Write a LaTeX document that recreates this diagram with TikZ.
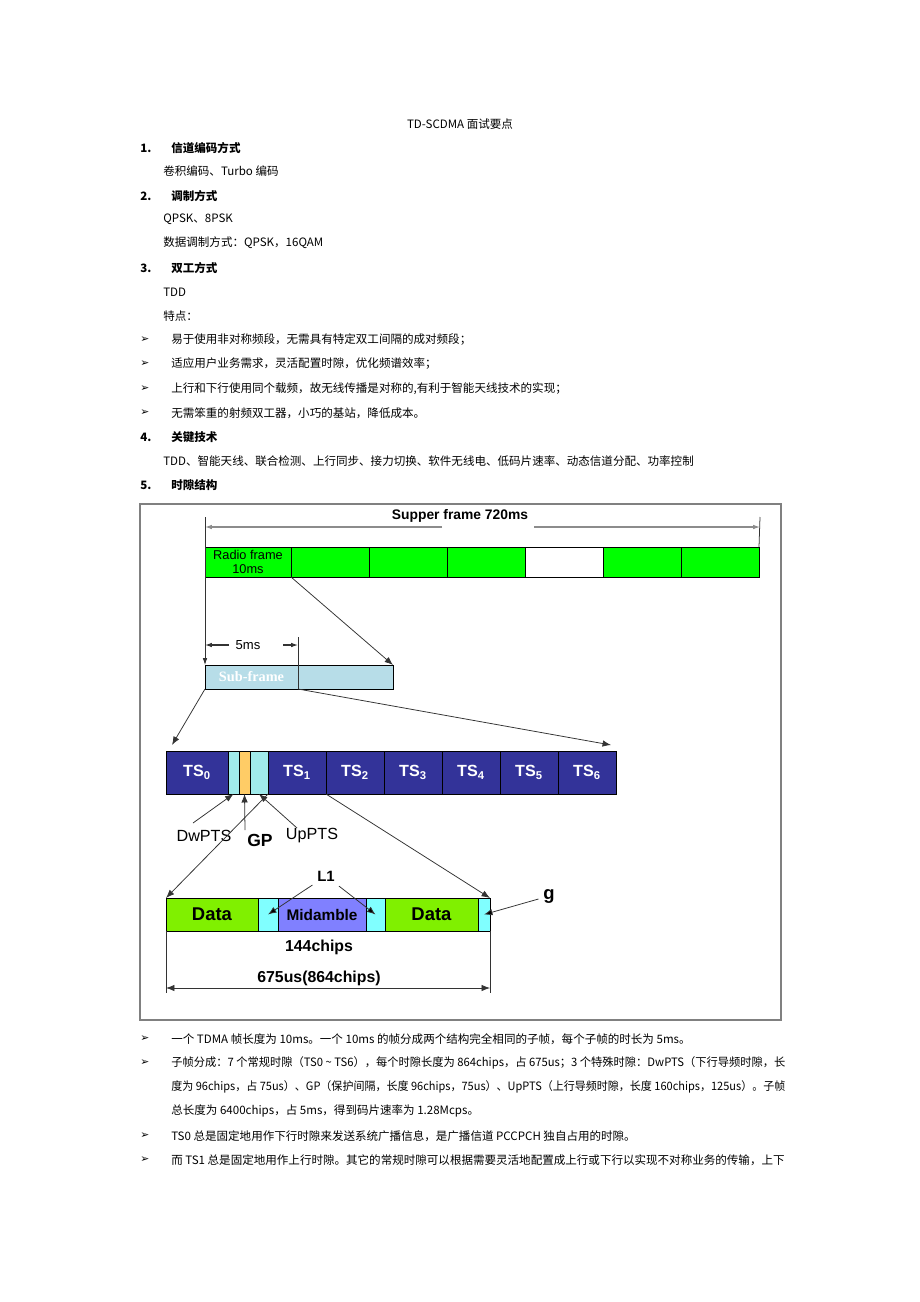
\documentclass[tikz,border=0pt]{standalone}
\usepackage{fontspec}
\setmainfont{Liberation Sans}
\newfontfamily\cjk{Noto Sans CJK SC}
\newfontfamily\dejavu{DejaVu Sans}
\newfontfamily\serifb{Liberation Serif}
\usetikzlibrary{positioning,arrows.meta}

\newlength{\pxu}
\setlength{\pxu}{0.65pt}

\definecolor{rfgreen}{RGB}{0,255,0}
\definecolor{sfblue}{RGB}{183,221,232}
\definecolor{tsblue}{RGB}{51,51,153}
\definecolor{ptscyan}{RGB}{160,235,235}
\definecolor{gporange}{RGB}{255,204,102}
\definecolor{datagreen}{RGB}{128,240,0}
\definecolor{midpurple}{RGB}{128,128,255}
\definecolor{burstcyan}{RGB}{128,255,255}

\tikzset{
  body/.style={anchor=west, inner sep=0pt, font=\cjk\fontsize{7.5}{9}\selectfont},
  head/.style={body, font=\cjk\bfseries\fontsize{7.5}{9}\selectfont},
  pointer/.style={body, font=\dejavu\fontsize{7}{9}\selectfont},
}

\begin{document}
\begin{tikzpicture}[x=0.65pt, y=-0.65pt,
  cell/.style={draw=black, line width=0.6pt, inner sep=0pt, outer sep=0pt, minimum height=#1*\pxu},
  cw/.style={minimum width=#1*\pxu},
  arr/.style={draw=black!80, line width=0.5pt, -{Latex[length=5.5pt,width=4.2pt]}},
  grayarr/.style={draw=black!45, line width=0.7pt, -{Latex[length=4.5pt,width=3pt]}},
  lbl/.style={inner sep=0pt, font=\fontsize{10.5}{12}\selectfont},
  blbl/.style={inner sep=0pt, font=\bfseries\fontsize{10.3}{12}\selectfont},
  tscell/.style={cell=43, cw=58, fill=tsblue, text=white, font=\bfseries\fontsize{10.5}{12}\selectfont}]
\useasboundingbox (0,0) rectangle (920,1302);

% page text above the figure
\node[body, anchor=center] (title) at (460,124) {TD-SCDMA 面试要点};
\node[head] (n1) at (140,148) {1.};
\node[head] (h1) at (171,148) {信道编码方式};
\node[body] (t1) at (163,171) {卷积编码、Turbo 编码};
\node[head] (n2) at (140,196) {2.};
\node[head] (h2) at (171,196) {调制方式};
\node[body] (t2) at (163,219) {QPSK、8PSK};
\node[body] (t3) at (163,243) {数据调制方式：QPSK，16QAM};
\node[head] (n3) at (140,268) {3.};
\node[head] (h3) at (171,268) {双工方式};
\node[body] (t4) at (163,292) {TDD};
\node[body] (t5) at (163,316) {特点：};
\foreach \y in {340,364,389,413,1039,1063,1136,1160}
  \node[pointer] (b\y) at (140,\y) {➢};
\node[body] (p1) at (171,340) {易于使用非对称频段，无需具有特定双工间隔的成对频段；};
\node[body] (p2) at (171,364) {适应用户业务需求，灵活配置时隙，优化频谱效率；};
\node[body] (p3) at (171,389) {上行和下行使用同个载频，故无线传播是对称的,有利于智能天线技术的实现；};
\node[body] (p4) at (171,413) {无需笨重的射频双工器，小巧的基站，降低成本。};
\node[head] (n4) at (140,437) {4.};
\node[head] (h4) at (171,437) {关键技术};
\node[body] (t6) at (163,461) {TDD、智能天线、联合检测、上行同步、接力切换、软件无线电、低码片速率、动态信道分配、功率控制};
\node[head] (n5) at (140,485) {5.};
\node[head] (h5) at (171,485) {时隙结构};

% figure frame
\draw[black!50, line width=0.8pt] (140,504) rectangle (781,1020);

% super frame
\node[inner sep=0pt, font=\bfseries\fontsize{9}{11}\selectfont] (sup) at (460,516) {Supper frame 720ms};
\node[cell=30, cw=86, fill=rfgreen, anchor=north west, align=center,
      font=\fontsize{8.3}{9.5}\selectfont] (rf1) at (205,547) {Radio frame\\10ms};
\node[cell=30, cw=78, fill=rfgreen, right=0pt of rf1] (rf2) {};
\node[cell=30, cw=78, fill=rfgreen, right=0pt of rf2] (rf3) {};
\node[cell=30, cw=78, fill=rfgreen, right=0pt of rf3] (rf4) {};
\node[cell=30, cw=78, fill=white, right=0pt of rf4] (rf5) {};
\node[cell=30, cw=78, fill=rfgreen, right=0pt of rf5] (rf6) {};
\node[cell=30, cw=78, fill=rfgreen, right=0pt of rf6] (rf7) {};
\coordinate (supL) at (205,517);
\coordinate (supR) at (760,517);
\coordinate (supa) at (442,527);
\coordinate (supb) at (534,527);
\draw[grayarr] (supa) -- (supa -| supL);
\draw[grayarr] (supb) -- (supb -| supR);
\draw[black!80, line width=0.5pt] (supR) -- (rf7.north east);

% sub-frame
\node[cell=24, cw=93, fill=sfblue, anchor=north west, text=white,
      font=\serifb\bfseries\fontsize{9.3}{11}\selectfont] (sf1) at (205,665) {Sub-frame};
\node[cell=24, cw=95, fill=sfblue, right=0pt of sf1] (sf2) {};
\node[inner sep=0pt, font=\fontsize{8.5}{10}\selectfont] (five) at (248,645) {5ms};
\coordinate (fiveL) at (229,645);
\coordinate (fiveR) at (283,645);
\coordinate (tick5) at (298,637);
\draw[grayarr, draw=black!80] (fiveL) -- (fiveL -| sf1.west);
\draw[grayarr, draw=black!80] (fiveR) -- (fiveR -| sf1.east);
\draw[black!80, line width=0.5pt] (tick5) -- (sf1.south east);
\draw[grayarr, draw=black!80, line width=0.5pt] (supL) -- (sf1.north west);
\draw[arr] (rf1.south east) -- (sf2.north east);

% time slots
\node[tscell, cw=62, anchor=north west] (ts0) at (166,751) {TS\textsubscript{0}};
\node[cell=43, cw=11, fill=ptscyan, right=0pt of ts0] (dw) {};
\node[cell=43, cw=11, fill=gporange, right=0pt of dw] (gp) {};
\node[cell=43, cw=18, fill=ptscyan, right=0pt of gp] (up) {};
\node[tscell, right=0pt of up] (ts1) {TS\textsubscript{1}};
\foreach \i [evaluate=\i as \p using int(\i-1)] in {2,...,6}
  \node[tscell, right=0pt of ts\p] (ts\i) {TS\textsubscript{\i}};
\coordinate (ts0top) at (172,745);
\coordinate (ts6top) at (611,745);
\draw[arr] (sf1.south west) -- (ts0top);
\draw[arr] (sf1.south east) -- (ts6top);

% special slot labels
\node[lbl] (dwl) at (204,836) {DwPTS};
\node[inner sep=0pt, font=\bfseries\fontsize{11.4}{13}\selectfont] (gpl) at (260,840) {GP};
\node[lbl] (upl) at (312,836) {UpPTS};
\coordinate (dwa) at (193,823);
\coordinate (gpa) at (245,830);
\coordinate (upa) at (297,828);
\draw[arr] (dwa) -- (dw.south);
\draw[arr] (gpa) -- (gp.south);
\draw[arr] (upa) -- (up.south);

% burst
\node[cell=33, cw=92, fill=datagreen, anchor=north west,
      font=\bfseries\fontsize{12}{14}\selectfont] (data1) at (166,898) {Data};
\node[cell=33, cw=20, fill=burstcyan, right=0pt of data1] (l1a) {};
\node[cell=33, cw=88, fill=midpurple, right=0pt of l1a,
      font=\bfseries\fontsize{10}{12}\selectfont] (mid) {Midamble};
\node[cell=33, cw=19, fill=burstcyan, right=0pt of mid] (l1b) {};
\node[cell=33, cw=93, fill=datagreen, right=0pt of l1b,
      font=\bfseries\fontsize{12}{14}\selectfont] (data2) {Data};
\node[cell=33, cw=12, fill=burstcyan, right=0pt of data2] (gg) {};
\draw[arr] (up.south east) -- (data1.north west);
\draw[arr] (ts1.south east) -- (gg.north east);

\node[inner sep=3pt, font=\bfseries\fontsize{9.7}{12}\selectfont] (l1) at (326,876) {L1};
\node[inner sep=3pt, font=\bfseries\fontsize{12}{14}\selectfont] (g) at (549,896) {g};
\path[arr]
  (l1) edge (l1a.center)
  (l1) edge (l1b.center)
  (g) edge (gg.center);

\node[blbl] (chips) at (319,947) {144chips};
\node[blbl] (slot) at (319,978) {675us(864chips)};
\coordinate (dimL) at (166,993);
\coordinate (dimR) at (490,993);
\coordinate (dimA) at (166,988);
\draw[black!80, line width=0.5pt] (data1.south west) -- (dimL);
\draw[black!80, line width=0.5pt] (gg.south east) -- (dimR);
\draw[arr, {Latex[length=5.5pt,width=4.2pt]}-{Latex[length=5.5pt,width=4.2pt]}] (dimA) -- (dimA -| dimR);

% page text below the figure
\node[body] (q1) at (171,1039) {一个 TDMA 帧长度为 10ms。一个 10ms 的帧分成两个结构完全相同的子帧，每个子帧的时长为 5ms。};
\node[body] (q2) at (171,1063) {\resizebox{614\pxu}{\height}{子帧分成：7 个常规时隙（TS0 \textasciitilde{} TS6），每个时隙长度为 864chips，占 675us；3 个特殊时隙：DwPTS（下行导频时隙，长}};
\node[body] (q3) at (171,1087) {\resizebox{614\pxu}{\height}{度为 96chips，占 75us）、GP（保护间隔，长度 96chips，75us）、UpPTS（上行导频时隙，长度 160chips，125us）。子帧}};
\node[body] (q4) at (171,1111) {总长度为 6400chips，占 5ms，得到码片速率为 1.28Mcps。};
\node[body] (q5) at (171,1136) {TS0 总是固定地用作下行时隙来发送系统广播信息，是广播信道 PCCPCH 独自占用的时隙。};
\node[body] (q6) at (171,1160) {而 TS1 总是固定地用作上行时隙。其它的常规时隙可以根据需要灵活地配置成上行或下行以实现不对称业务的传输，上下};
\end{tikzpicture}
\end{document}
